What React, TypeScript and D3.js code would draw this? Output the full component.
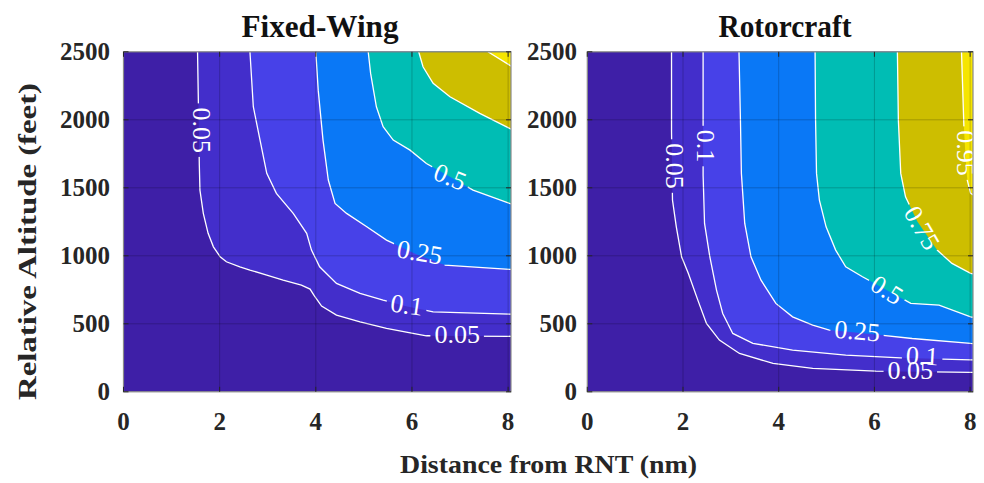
import React from 'react';
import * as d3 from 'd3';

type Pt = [number, number];
type Label = { text: string; x: number; y: number; angle: number };

// contour levels and band colours (band i lies below level i)
const levels = [0.05, 0.1, 0.25, 0.5, 0.75, 0.95];
const bandColors = ['#3e1fa7', '#432ecb', '#4741e8', '#0a78f6', '#00bdb4', '#cdbe00', '#f6e500'];
const xTicks = [0, 2, 4, 6, 8];
const yTicks = [0, 500, 1000, 1500, 2000, 2500];
const xDomain: [number, number] = [0, 8.06];
const yDomain: [number, number] = [0, 2500];

// Fixed-Wing contour lines: [distance (nm), relative altitude (ft)]
const fw005: Pt[] = [[1.54, 2500], [1.556, 2157], [1.577, 1667], [1.59, 1483], [1.66, 1312], [1.76, 1165], [1.87, 1066], [2.01, 993], [2.14, 956], [2.42, 919], [2.63, 895], [2.98, 858], [3.32, 821], [3.7, 785], [3.88, 755], [3.97, 705], [4.12, 630], [4.43, 564], [4.92, 515], [5.47, 466], [6.02, 429], [6.3, 412], [7.0, 410], [8.2, 408]];
const fw010: Pt[] = [[2.63, 2500], [2.7, 2096], [2.84, 1851], [2.98, 1606], [3.18, 1459], [3.53, 1312], [3.81, 1165], [3.91, 1042], [4.08, 919], [4.43, 797], [4.92, 723], [5.4, 674], [5.9, 628], [6.44, 588], [8.03, 571], [8.2, 570]];
const fw025: Pt[] = [[4.0, 2500], [4.05, 2218], [4.15, 1851], [4.26, 1557], [4.4, 1385], [4.64, 1312], [5.06, 1213], [5.47, 1115], [6.1, 1010], [6.68, 932], [8.03, 900], [8.2, 898]];
const fw050: Pt[] = [[5.09, 2500], [5.14, 2341], [5.26, 2096], [5.4, 1949], [5.61, 1851], [5.96, 1777], [6.3, 1679], [6.8, 1580], [7.27, 1483], [8.03, 1385], [8.2, 1370]];
const fw075: Pt[] = [[6.14, 2500], [6.23, 2390], [6.44, 2268], [6.79, 2169], [7.41, 2047], [8.03, 1937], [8.2, 1910]];
const fw095: Pt[] = [[7.58, 2500], [8.03, 2402], [8.2, 2370]];
const fixedWingLines: Pt[][] = [fw005, fw010, fw025, fw050, fw075, fw095];
const fixedWingLabels: Label[] = [
  { text: '0.05', x: 1.63, y: 1924, angle: 90 },
  { text: '0.1', x: 5.89, y: 637, angle: 8 },
  { text: '0.25', x: 6.16, y: 1024, angle: 10 },
  { text: '0.5', x: 6.79, y: 1579, angle: 22 },
  { text: '0.05', x: 6.94, y: 424, angle: 0 },
];

// Rotorcraft contour lines
const rc005: Pt[] = [[1.76, 2500], [1.76, 1912], [1.78, 1410], [1.86, 1213], [1.97, 993], [2.11, 871], [2.31, 674], [2.49, 503], [2.76, 380], [3.18, 282], [3.88, 209], [4.71, 172], [6.03, 152], [8.01, 143], [8.2, 142]];
const rc010: Pt[] = [[2.42, 2500], [2.42, 1998], [2.42, 1593], [2.45, 1238], [2.56, 993], [2.7, 748], [2.83, 576], [3.04, 429], [3.46, 356], [4.29, 307], [5.4, 270], [6.65, 248], [8.01, 235], [8.2, 234]];
const rc025: Pt[] = [[3.17, 2500], [3.2, 2000], [3.22, 1606], [3.29, 1238], [3.42, 993], [3.63, 821], [3.94, 650], [4.29, 551], [4.71, 490], [5.06, 454], [6.13, 417], [6.79, 392], [8.01, 356], [8.2, 352]];
const rc050: Pt[] = [[4.76, 2500], [4.77, 2000], [4.79, 1606], [4.85, 1410], [4.99, 1213], [5.19, 1042], [5.4, 919], [5.75, 846], [6.3, 740], [6.76, 650], [7.35, 637], [8.01, 551], [8.2, 540]];
const rc075: Pt[] = [[6.48, 2500], [6.5, 2000], [6.55, 1606], [6.65, 1434], [6.9, 1250], [7.31, 1042], [7.62, 944], [8.01, 871], [8.2, 860]];
const rc095: Pt[] = [[7.82, 2500], [7.87, 1949], [7.9, 1750], [7.94, 1557], [8.01, 1459], [8.2, 1420]];
const rotorcraftLines: Pt[][] = [rc005, rc010, rc025, rc050, rc075, rc095];
const rotorcraftLabels: Label[] = [
  { text: '0.05', x: 1.83, y: 1660, angle: 90 },
  { text: '0.1', x: 2.47, y: 1807, angle: 90 },
  { text: '0.25', x: 5.64, y: 446, angle: 5 },
  { text: '0.5', x: 6.26, y: 748, angle: 32 },
  { text: '0.75', x: 6.99, y: 1204, angle: 60 },
  { text: '0.95', x: 7.9, y: 1755, angle: 90 },
  { text: '0.1', x: 7.0, y: 262, angle: 3 },
  { text: '0.05', x: 6.75, y: 160, angle: 0 },
];

const SERIF = '"Liberation Serif", "Times New Roman", serif';
const LABEL_FS = 26;

function labelWidth(t: string) {
  let w = 0;
  for (const ch of t) w += ch === '.' ? 0.25 : 0.5;
  return w * LABEL_FS;
}

type PanelProps = {
  id: string;
  left: number;
  right: number;
  top: number;
  bottom: number;
  lines: Pt[][];
  labels: Label[];
  title: string;
  titleX: number;
  titleLen: number;
  yLabelX: number;
};

function Panel(p: PanelProps) {
  const x = d3.scaleLinear().domain(xDomain).range([p.left, p.right]);
  const y = d3.scaleLinear().domain(yDomain).range([p.bottom, p.top]);
  const line = d3.line<Pt>().x((d) => x(d[0])).y((d) => y(d[1]));
  const w = p.right - p.left;
  const h = p.bottom - p.top;
  const tickLen = 5;
  return (
    <g>
      <defs>
        <clipPath id={p.id + '-clip'}>
          <rect x={p.left} y={p.top} width={w} height={h} />
        </clipPath>
        <mask id={p.id + '-mask'} maskUnits="userSpaceOnUse" x={0} y={0} width={984} height={483}>
          <rect x={0} y={0} width={984} height={483} fill="white" />
          {p.labels.map((l, i) => {
            const lw = labelWidth(l.text) + 8;
            return (
              <rect
                key={i}
                x={-lw / 2}
                y={-LABEL_FS * 0.4}
                width={lw}
                height={LABEL_FS * 0.8}
                fill="black"
                transform={`translate(${x(l.x)},${y(l.y)}) rotate(${l.angle})`}
              />
            );
          })}
        </mask>
      </defs>
      <g clipPath={`url(#${p.id}-clip)`}>
        <rect x={p.left} y={p.top} width={w} height={h} fill={bandColors[0]} />
        {p.lines.map((c, i) => {
          const last = c[c.length - 1];
          const poly: Pt[] = [[c[0][0], 2800], ...c, [9, last[1]], [9, 2800]];
          return <path key={i} d={line(poly) + 'Z'} fill={bandColors[i + 1]} />;
        })}
        <g mask={`url(#${p.id}-mask)`}>
          {p.lines.map((c, i) => (
            <path key={i} d={line(c) || ''} fill="none" stroke="white" strokeWidth={1.3} />
          ))}
        </g>
        {xTicks.map((t) => (
          <line key={'gx' + t} x1={x(t)} x2={x(t)} y1={p.top} y2={p.bottom} stroke="#000" strokeOpacity={0.2} strokeWidth={1} />
        ))}
        {yTicks.map((t) => (
          <line key={'gy' + t} x1={p.left} x2={p.right} y1={y(t)} y2={y(t)} stroke="#000" strokeOpacity={0.2} strokeWidth={1} />
        ))}
      </g>
      {p.labels.map((l, i) => (
        <text
          key={'lab' + i}
          transform={`translate(${x(l.x)},${y(l.y)}) rotate(${l.angle})`}
          textAnchor="middle"
          dominantBaseline="central"
          fill="white"
          fontFamily={SERIF}
          fontSize={LABEL_FS}
        >
          {l.text}
        </text>
      ))}
      <rect x={p.left} y={p.top} width={w} height={h} fill="none" stroke="#8a8a8a" strokeWidth={1.2} />
      {xTicks.map((t) => (
        <g key={'tx' + t}>
          <line x1={x(t)} x2={x(t)} y1={p.bottom} y2={p.bottom - tickLen} stroke="#262626" strokeWidth={1} />
          <line x1={x(t)} x2={x(t)} y1={p.top} y2={p.top + tickLen} stroke="#262626" strokeWidth={1} />
          <text x={x(t)} y={p.bottom + 38} textAnchor="middle" fontFamily={SERIF} fontWeight="bold" fontSize={25} fill="#262626">
            {t}
          </text>
        </g>
      ))}
      {yTicks.map((t) => (
        <g key={'ty' + t}>
          <line x1={p.left} x2={p.left + tickLen} y1={y(t)} y2={y(t)} stroke="#262626" strokeWidth={1} />
          <line x1={p.right} x2={p.right - tickLen} y1={y(t)} y2={y(t)} stroke="#262626" strokeWidth={1} />
          <text x={p.yLabelX} y={y(t) + 8.5} textAnchor="end" fontFamily={SERIF} fontWeight="bold" fontSize={25} fill="#262626">
            {t}
          </text>
        </g>
      ))}
      <text
        x={p.titleX}
        y={37}
        textAnchor="middle"
        fontFamily={SERIF}
        fontWeight="bold"
        fontSize={31}
        fill="#111"
        textLength={p.titleLen}
        lengthAdjust="spacingAndGlyphs"
      >
        {p.title}
      </text>
    </g>
  );
}

export default function App() {
  return (
    <svg width={984} height={483} style={{ position: 'absolute', left: 0, top: 0, background: 'white' }}>
      <rect x={0} y={0} width={984} height={483} fill="white" />
      <Panel
        id="fw"
        left={123.5}
        right={511}
        top={51.8}
        bottom={391.8}
        lines={fixedWingLines}
        labels={fixedWingLabels}
        title="Fixed-Wing"
        titleX={320}
        titleLen={157}
        yLabelX={110}
      />
      <Panel
        id="rc"
        left={587.3}
        right={973}
        top={51.8}
        bottom={391.8}
        lines={rotorcraftLines}
        labels={rotorcraftLabels}
        title="Rotorcraft"
        titleX={785}
        titleLen={133}
        yLabelX={577}
      />
      <text
        transform="translate(36,241.5) rotate(-90)"
        textAnchor="middle"
        fontFamily={SERIF}
        fontWeight="bold"
        fontSize={26}
        fill="#262626"
        textLength={317}
        lengthAdjust="spacingAndGlyphs"
      >
        Relative Altitude (feet)
      </text>
      <text
        x={548.5}
        y={473}
        textAnchor="middle"
        fontFamily={SERIF}
        fontWeight="bold"
        fontSize={26}
        fill="#262626"
        textLength={297}
        lengthAdjust="spacingAndGlyphs"
      >
        Distance from RNT (nm)
      </text>
    </svg>
  );
}
